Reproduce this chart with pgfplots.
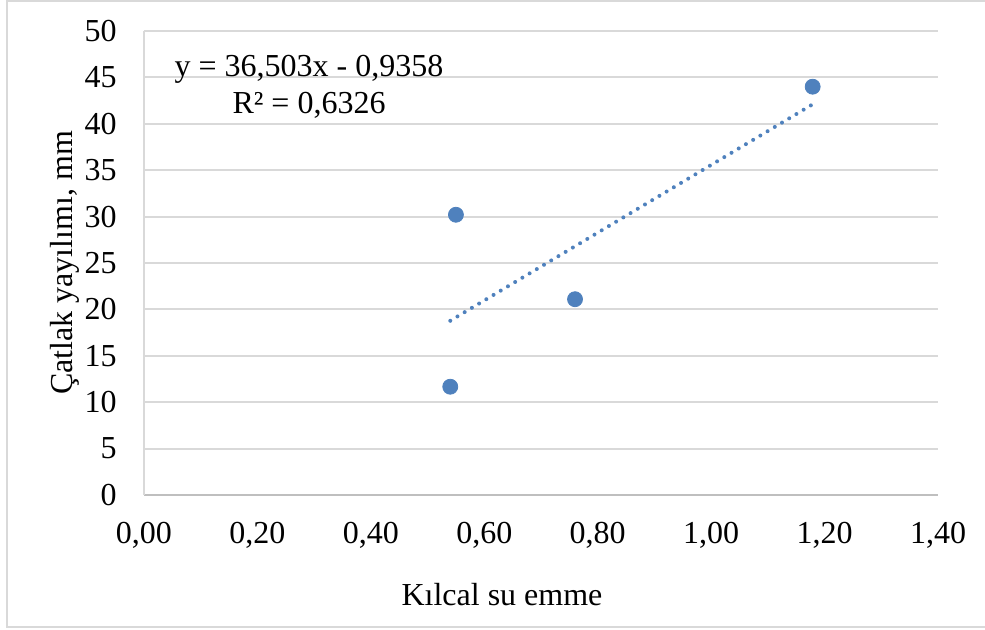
\documentclass[border=0pt]{standalone}
\usepackage{fontspec}
\setmainfont{Liberation Serif}
\usepackage{pgfplots}
\pgfplotsset{compat=1.18}
\definecolor{ptblue}{RGB}{79,129,189}
\definecolor{gridgray}{RGB}{217,217,217}
\definecolor{axgray}{RGB}{191,191,191}
\begin{document}
\fontsize{16}{19}\selectfont
\begin{tikzpicture}
\path[use as bounding box] (0,0) rectangle (492.5pt,314.5pt);
\draw[gridgray, line width=0.8pt] (3.5pt,1pt) rectangle (494pt,314pt);
\begin{axis}[
  at={(72pt,67pt)}, anchor=south west,
  scale only axis, width=397pt, height=232pt,
  xmin=0, xmax=1.4, ymin=0, ymax=50,
  xtick={0,0.2,0.4,0.6,0.8,1.0,1.2,1.4},
  ytick={0,5,10,15,20,25,30,35,40,45,50},
  major tick length=0pt,
  axis lines*=left,
  axis line style={-},
  x axis line style={axgray, line width=1pt},
  y axis line style={gridgray, line width=1pt},
  ymajorgrids, grid style={gridgray, line width=1pt},
  /pgf/number format/assume math mode=true,
  xticklabel style={anchor=north, inner sep=0pt, yshift=-13.5pt, /pgf/number format/.cd, use comma, fixed, fixed zerofill, precision=2},
  yticklabel style={anchor=east, inner sep=0pt, xshift=-13.5pt, /pgf/number format/.cd, use comma, fixed},
  clip=false,
]
\addplot[only marks, mark=*, mark size=3.75pt, color=ptblue, mark options={draw=ptblue, fill=ptblue}]
  coordinates {(0.550,30.2) (0.540,11.67) (0.760,21.1) (1.179,44.0)};
\addplot[ptblue, line width=2pt, line cap=round, dash pattern=on 0pt off 4.2pt]
  coordinates {(0.540,18.776) (1.179,42.101)};
\end{axis}
\node[anchor=base] at (154.5pt,276.5pt) {y = 36,503x - 0,9358};
\node[anchor=base] at (154.5pt,258pt) {R² = 0,6326};
\node[anchor=base] at (251pt,12pt) {Kılcal su emme};
\node[anchor=base, rotate=90] at (36pt,183pt) {Çatlak yayılımı, mm};
\end{tikzpicture}
\end{document}
